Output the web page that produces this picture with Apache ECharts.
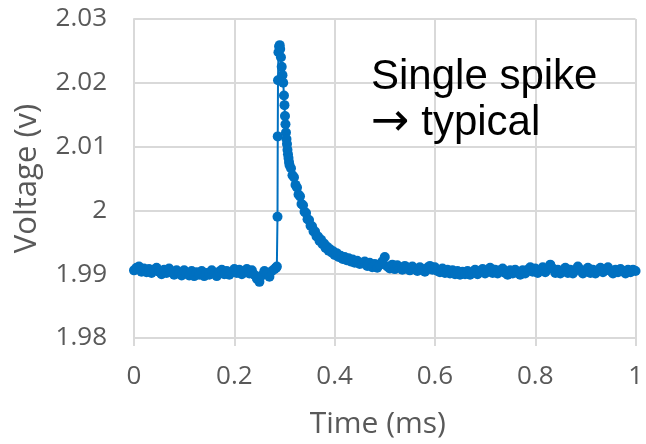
<!DOCTYPE html>
<html>
<head>
<meta charset="utf-8">
<script src="https://cdn.jsdelivr.net/npm/echarts@6/dist/echarts.min.js"></script>
<style>
html,body{margin:0;padding:0;background:#fff;}
#chart{width:646px;height:444px;}
</style>
</head>
<body>
<div id="chart"></div>
<script>
// ---- Data ----
var preTime = [0,0.005,0.01,0.015,0.02,0.025,0.03,0.035,0.04,0.045,0.05,0.055,0.06,0.065,0.07,0.075,0.08,0.085,0.09,0.095,
  0.1,0.105,0.11,0.115,0.12,0.125,0.13,0.135,0.14,0.145,0.15,0.155,0.16,0.165,0.17,0.175,0.18,0.185,0.19,0.195,
  0.2,0.205,0.21,0.215,0.22,0.225,0.23,0.235,0.24,0.245,0.25,0.255,0.26,0.265,0.27,0.275,0.28,0.2835];
var preVolt = [1.9906,1.9910,1.9912,1.9904,1.9909,1.9903,1.9908,1.9902,1.9907,1.9910,1.9904,1.9900,1.9907,1.9902,1.9909,1.9904,1.9899,1.9906,1.9902,1.9898,
  1.9906,1.9901,1.9898,1.9905,1.9897,1.9903,1.9899,1.9905,1.9897,1.9902,1.9899,1.9906,1.9901,1.9897,1.9904,1.9907,1.9900,1.9905,1.9899,1.9903,
  1.9908,1.9902,1.9907,1.9900,1.9905,1.9908,1.9901,1.9906,1.9899,1.9893,1.9888,1.9898,1.9905,1.9901,1.9896,1.9905,1.9908,1.9910];

var spikeTime = [0.2848,0.2861,0.2866,0.2871,0.2880,0.2893,0.2905,0.2915,0.2930,0.2945,0.2960,0.2975,0.2990,0.3000,0.3010,0.3020,0.3030,0.3040,0.3050,0.3060,0.3070,0.3080,0.3090,
  0.310,0.313,0.316,0.319,0.322,0.325,0.328,0.331,0.334,0.337,0.340,0.343,0.346,0.349,0.352,0.355,0.358,0.361,0.364,0.367,0.370,0.373,0.376,0.379,0.382,0.385,0.388,0.391,0.394,0.397,
  0.400,0.404,0.408,0.412,0.416,0.420,0.424,0.428,0.432,0.436,0.440,0.445,0.450];
var spikeVolt = [1.9912,1.9990,2.0116,2.0204,2.0248,2.0257,2.0259,2.0253,2.0240,2.0225,2.0212,2.0200,2.0180,2.0165,2.0148,2.0135,2.0122,2.0112,2.0104,2.0095,2.0088,2.0082,2.0076,
  2.0071,2.0066,2.0055,2.0052,2.0040,2.0036,2.0025,2.0022,2.0010,2.0008,1.9998,1.9996,1.9986,1.9985,1.9976,1.9975,1.9967,1.9967,1.9959,1.9959,1.9952,1.9954,1.9947,1.9948,1.9941,1.9943,1.9937,1.9939,1.9934,1.9936,
  1.9930,1.9933,1.9927,1.9929,1.9924,1.9927,1.9922,1.9925,1.9920,1.9923,1.9918,1.9921,1.9916];

var tailTime = [0.455,0.46,0.465,0.47,0.475,0.48,0.485,0.49,0.495,0.5,0.505,0.51,0.515,0.52,0.525,0.53,0.535,0.54,0.545,0.55,
  0.555,0.56,0.565,0.57,0.575,0.58,0.585,0.59,0.595,0.6,0.605,0.61,0.615,0.62,0.625,0.63,0.635,0.64,0.645,0.65,
  0.655,0.66,0.665,0.67,0.675,0.68,0.685,0.69,0.695,0.7,0.705,0.71,0.715,0.72,0.725,0.73,0.735,0.74,0.745,0.75,
  0.755,0.76,0.765,0.77,0.775,0.78,0.785,0.79,0.795,0.8,0.805,0.81,0.815,0.82,0.825,0.83,0.835,0.84,0.845,0.85,
  0.855,0.86,0.865,0.87,0.875,0.88,0.885,0.89,0.895,0.9,0.905,0.91,0.915,0.92,0.925,0.93,0.935,0.94,0.945,0.95,
  0.955,0.96,0.965,0.97,0.975,0.98,0.985,0.99,0.995,1.0];
var tailVolt = [1.9917,1.9920,1.9913,1.9918,1.9911,1.9916,1.9910,1.9915,1.9920,1.9927,1.9912,1.9909,1.9915,1.9908,1.9914,1.9910,1.9907,1.9913,1.9909,1.9906,
  1.9912,1.9908,1.9905,1.9911,1.9907,1.9904,1.9910,1.9913,1.9907,1.9911,1.9905,1.9903,1.9909,1.9902,1.9907,1.9901,1.9906,1.9900,1.9905,1.9899,
  1.9904,1.9900,1.9905,1.9899,1.9903,1.9907,1.9900,1.9905,1.9908,1.9901,1.9906,1.9910,1.9902,1.9907,1.9901,1.9906,1.9909,1.9902,1.9899,1.9906,
  1.9901,1.9907,1.9902,1.9899,1.9906,1.9901,1.9907,1.9911,1.9904,1.9909,1.9902,1.9907,1.9911,1.9903,1.9908,1.9915,1.9909,1.9902,1.9907,1.9901,
  1.9906,1.9910,1.9902,1.9907,1.9901,1.9906,1.9912,1.9907,1.9901,1.9906,1.9910,1.9902,1.9907,1.9901,1.9906,1.9910,1.9903,1.9907,1.9911,1.9905,
  1.9901,1.9907,1.9903,1.9908,1.9905,1.9901,1.9907,1.9903,1.9907,1.9905];

var xTicks = [0, 0.2, 0.4, 0.6, 0.8, 1];
var yTicks = [1.98, 1.99, 2.00, 2.01, 2.02, 2.03];
var xTitle = 'Time (ms)';
var yTitle = 'Voltage (v)';
var noteLine1 = 'Single spike';
var noteArrow = '\u2192';
var noteLine2 = ' typical';

// ---- Build ----
var allTime = preTime.concat(spikeTime, tailTime);
var allVolt = preVolt.concat(spikeVolt, tailVolt);
var pts = allTime.map(function (t, i) { return [t, allVolt[i]]; });

var gridColor = '#D9D9D9';
var labelColor = '#595959';
var font = '"Open Sans", sans-serif';

var chart = echarts.init(document.getElementById('chart'), null, {renderer: 'canvas'});
chart.setOption({
  animation: false,
  backgroundColor: '#ffffff',
  grid: {left: 134, right: 6, top: 19, bottom: 104, containLabel: false},
  xAxis: {
    type: 'value',
    min: xTicks[0], max: xTicks[xTicks.length - 1],
    interval: xTicks[1] - xTicks[0],
    name: xTitle, nameLocation: 'middle', nameGap: 71,
    nameTextStyle: {fontFamily: font, fontSize: 30, color: labelColor, padding: [0, 14, 0, 0]},
    axisLine: {show: true, lineStyle: {color: gridColor, width: 2}},
    axisTick: {show: true, length: 8, lineStyle: {color: gridColor, width: 2}},
    axisLabel: {fontFamily: font, fontSize: 26, color: labelColor, margin: 26,
      formatter: function (v) { return String(parseFloat(v.toFixed(2))); }},
    splitLine: {show: true, lineStyle: {color: gridColor, width: 2}}
  },
  yAxis: {
    type: 'value',
    min: yTicks[0], max: yTicks[yTicks.length - 1],
    interval: 0.01,
    name: yTitle, nameLocation: 'middle', nameGap: 91,
    nameTextStyle: {fontFamily: font, fontSize: 31, color: labelColor},
    axisLine: {show: true, lineStyle: {color: gridColor, width: 2}},
    axisTick: {show: false},
    axisLabel: {fontFamily: font, fontSize: 26, color: labelColor, margin: 27,
      formatter: function (v) { return String(parseFloat(v.toFixed(2))); }},
    splitLine: {show: true, lineStyle: {color: gridColor, width: 2}}
  },
  series: [{
    type: 'line',
    data: pts,
    clip: false,
    symbol: 'circle',
    symbolSize: 10,
    showAllSymbol: true,
    itemStyle: {color: '#0070C0'},
    lineStyle: {color: '#0070C0', width: 2},
    z: 3
  }],
  graphic: [{
    type: 'text',
    left: 371, top: 54,
    style: {
      text: noteLine1 + '\n{arr|' + noteArrow + '}' + noteLine2,
      font: '42px "Liberation Sans", Arial, sans-serif',
      lineHeight: 46,
      fill: '#000000',
      rich: {
        arr: {fontFamily: '"DejaVu Sans"', fontSize: 46, lineHeight: 46, fill: '#000000'}
      }
    },
    z: 10
  }]
});
</script>
</body>
</html>
